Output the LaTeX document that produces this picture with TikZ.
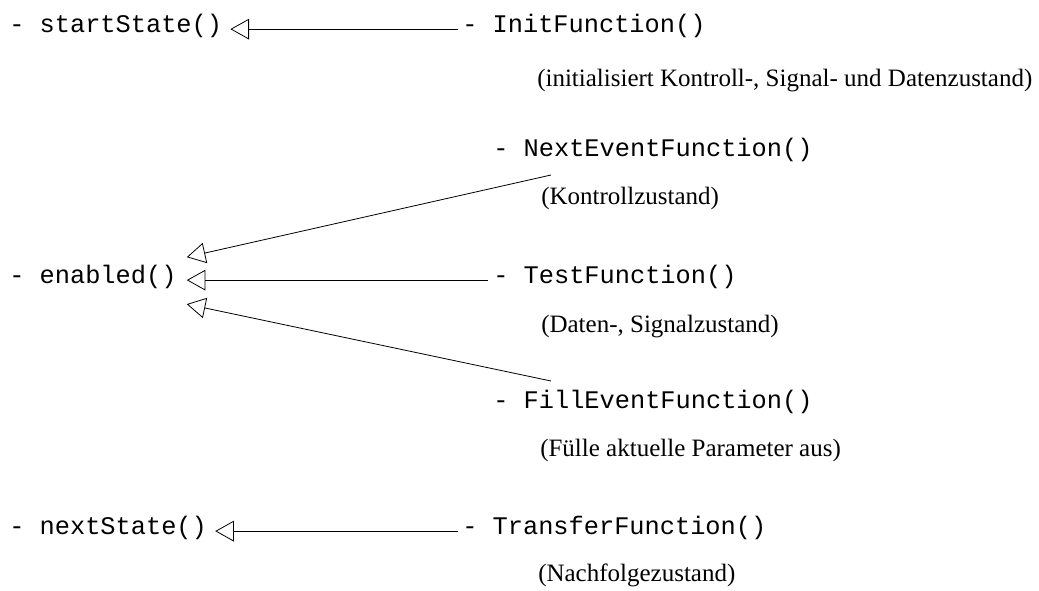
\documentclass[tikz,border=0pt]{standalone}
\usepackage{fontspec}
\usetikzlibrary{arrows.meta,calc}
\newfontfamily\codefam{Liberation Mono}
\newfontfamily\notefam{Liberation Serif}
\begin{document}
\begin{tikzpicture}[x=0.75pt,y=-0.75pt,
  code/.style={font={\codefam\fontsize{19}{21}\selectfont}, inner sep=0pt, anchor=base west},
  note/.style={font={\notefam\fontsize{18.75}{21}\selectfont}, inner sep=0pt, anchor=base west},
  gen/.style={line width=0.6pt, -{Triangle[open,length=14pt,width=15.5pt,line width=0.6pt]}}]
\useasboundingbox (0,0) rectangle (1039,590);

% operations of the generic transition
\node[code] (ss) at (9,32)  {- startState()};
\node[code] (en) at (9,283) {- enabled()};
\node[code] (ns) at (9,534) {- nextState()};

% functions supplied by the concrete model
\node[code] (init)  at (462,32)  {- InitFunction()};
\node[note] (initN) at (537,86)  {(initialisiert Kontroll-, Signal- und Datenzustand)};
\node[code] (next)  at (493,156) {- NextEventFunction()};
\node[note] (nextN) at (541,204) {(Kontrollzustand)};
\node[code] (test)  at (493,283) {- TestFunction()};
\node[note] (testN) at (541,332) {(Daten-, Signalzustand)};
\node[code] (fill)  at (493,408) {- FillEventFunction()};
\node[note] (fillN) at (540,456) {(Fülle aktuelle Parameter aus)};
\node[code] (trans) at (462,534) {- TransferFunction()};
\node[note] (transN) at (538,581) {(Nachfolgezustand)};

% end points of the connectors
\coordinate (ssTip)  at ($(ss.mid east)+(8,0)$);
\coordinate (enTop)  at ($(en.mid east)+(10,-23)$);
\coordinate (enMid)  at ($(en.mid east)+(10,0)$);
\coordinate (enBot)  at ($(en.mid east)+(10,24)$);
\coordinate (nsTip)  at ($(ns.mid east)+(8,0)$);
\coordinate (nextEnd) at ($(next.base west)+(58,19)$);
\coordinate (fillEnd) at ($(fill.base west)+(58,-27)$);

\draw[gen] ($(init.mid west)+(-4,0)$) -- (ssTip);
\draw[gen] (nextEnd) -- (enTop);
\draw[gen] ($(test.mid west)+(-5,0)$) -- (enMid);
\draw[gen] (fillEnd) -- (enBot);
\draw[gen] ($(trans.mid west)+(-4,0)$) -- (nsTip);
\end{tikzpicture}
\end{document}
